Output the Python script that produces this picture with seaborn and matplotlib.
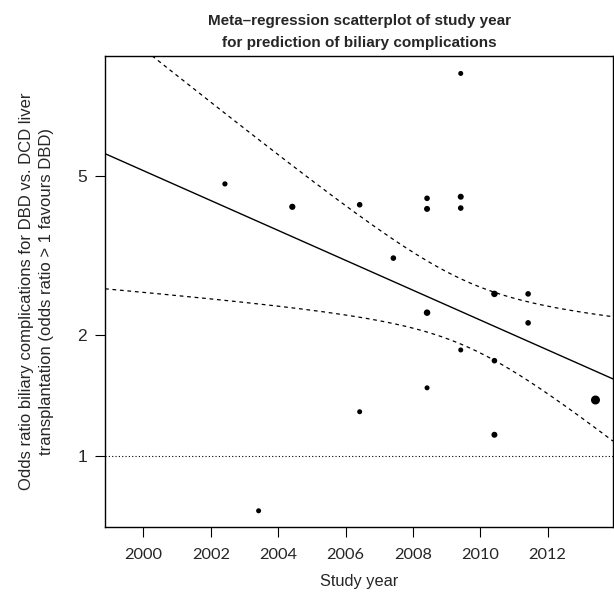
import numpy as np
import pandas as pd
import matplotlib
matplotlib.use("Agg")
import matplotlib.pyplot as plt
import seaborn as sns

# ---- data ----
study_year = [2002.42, 2003.42, 2004.42, 2006.42, 2006.42, 2007.42, 2008.42, 2008.42,
              2008.42, 2008.42, 2009.42, 2009.42, 2009.42, 2009.42, 2010.42, 2010.42,
              2010.42, 2011.42, 2011.42, 2013.42]
odds_ratio = [4.78, 0.73, 4.19, 4.24, 1.29, 3.12, 4.40, 4.14,
              2.28, 1.48, 9.02, 4.44, 4.16, 1.84, 2.54, 1.73,
              1.13, 2.54, 2.15, 1.38]
weights = [5.2, 5.0, 6.2, 5.6, 5.0, 5.6, 5.6, 6.0,
           6.5, 5.0, 5.0, 6.0, 5.6, 5.0, 6.5, 5.6,
           6.0, 5.6, 5.6, 9.0]

# meta-regression model (log10 odds ratio scale)
intercept_log10 = 0.755      # prediction at year 1998.86
intercept_year = 1998.86
slope_log10 = -0.0373        # per year
ci_min_var = 0.0066          # variance of prediction at its minimum
ci_center_year = 2009.6
ci_var_slope = 0.00093

y_ticks = [1, 2, 5]
x_ticks = [2000, 2002, 2004, 2006, 2008, 2010, 2012]
x_lim = (1998.86, 2013.94)
y_lim = (0.665, 10.0)

title = "Meta\u2013regression scatterplot of study year\nfor prediction of biliary complications"
x_label = "Study year"
y_label = ("Odds ratio biliary complications for DBD vs. DCD liver\n"
           "transplantation (odds ratio > 1 favours DBD)")

# ---- figure ----
sns.set_theme(style="white")
plt.rcParams["font.family"] = ["Liberation Sans", "DejaVu Sans"]

fig = plt.figure(figsize=(6.14, 5.94), dpi=100)
ax = fig.add_axes([105 / 614, (594 - 527) / 594, (613 - 105) / 614, (527 - 55.5) / 594])

df = pd.DataFrame({"year": study_year, "or": odds_ratio, "w": weights})
df["s"] = (df["w"] * 0.72) ** 2

xs = np.linspace(x_lim[0], x_lim[1], 300)
pred = intercept_log10 + slope_log10 * (xs - intercept_year)
hw = np.sqrt(ci_min_var + ci_var_slope * (xs - ci_center_year) ** 2)
line_df = pd.DataFrame({"year": xs, "pred": 10 ** pred,
                        "lo": 10 ** (pred - hw), "hi": 10 ** (pred + hw)})

ax.axhline(1, color="black", lw=0.8, ls=(0, (1, 2)))
sns.lineplot(data=line_df, x="year", y="pred", ax=ax, color="black", lw=1.0)
sns.lineplot(data=line_df, x="year", y="lo", ax=ax, color="black", lw=0.9, ls=(0, (3, 3)))
sns.lineplot(data=line_df, x="year", y="hi", ax=ax, color="black", lw=0.9, ls=(0, (3, 3)))
ax.scatter(df["year"], df["or"], s=df["s"], color="black", linewidths=0, zorder=5)

ax.set_yscale("log")
ax.set_xlim(*x_lim)
ax.set_ylim(*y_lim)
ax.set_yticks(y_ticks)
ax.set_yticklabels([str(t) for t in y_ticks], fontsize=12.5)
ax.minorticks_off()
ax.set_xticks(x_ticks)
ax.set_xticklabels([str(t) for t in x_ticks], fontsize=11.8, family=["Lato", "DejaVu Sans"])
ax.tick_params(axis="both", direction="out", length=7, width=0.8, color="black",
               left=True, bottom=True)
ax.tick_params(axis="x", pad=8)
ax.tick_params(axis="y", pad=6)

for sp in ax.spines.values():
    sp.set_visible(True)
    sp.set_color("black")
    sp.set_linewidth(1.0)

ax.set_xlabel(x_label, fontsize=11.8, labelpad=9)
ax.set_ylabel(y_label, fontsize=12, labelpad=17, linespacing=1.35)
ax.set_title(title, fontsize=11, fontweight="bold", pad=6, linespacing=1.75)

fig.savefig("out.png", dpi=100)
